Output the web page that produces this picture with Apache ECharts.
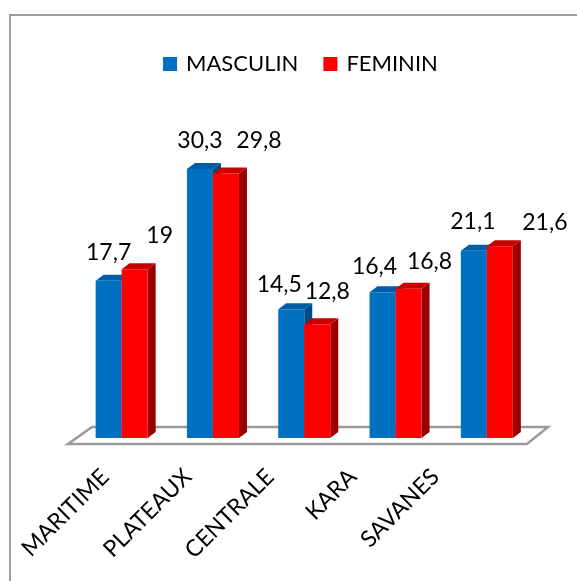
<!DOCTYPE html>
<html><head><meta charset="utf-8">
<script src="https://cdn.jsdelivr.net/npm/echarts@6/dist/echarts.min.js"></script>
<style>html,body{margin:0;padding:0;background:#fff}#c{width:577px;height:581px}</style>
</head><body><div id="c"></div>
<script>
const categories = ['MARITIME', 'PLATEAUX', 'CENTRALE', 'KARA', 'SAVANES'];
const masculin = [17.7, 30.3, 14.5, 16.4, 21.1];
const feminin = [19, 29.8, 12.8, 16.8, 21.6];
const seriesNames = ['MASCULIN', 'FEMININ'];

// label nudges (px) relative to bar top-centre, as placed in the reference
const labelNudge = {
  dx: [[0, 0, -12, -8, -1], [25, 33, 10, 21, 45]],
  dy: [[-28, -28, -25, -26, -29], [-34, -33, -33, -27, -24]]
};
const palette = [
  { front: '#0070C0', top: '#005EA6', side: '#004C88' },
  { front: '#FF0000', top: '#C80000', side: '#9A0000' }
];
const FONT = 'Lato, "Liberation Sans", sans-serif';

const GL = 76, GW = 456.5, GT = 82.8, GH = 355.2; // plot grid
const BASE = GT + GH;
const BW = 26, DX = 8, DY = 6;

function makeRender(s) {
  return function (params, api) {
    const idx = api.value(0), v = api.value(1);
    const p = api.coord([idx, v]);
    const b = api.coord([idx, 0]);
    const x0 = s === 0 ? p[0] - BW : p[0];
    const x1 = x0 + BW;
    const yt = p[1], yb = b[1];
    const c = palette[s];
    return {
      type: 'group',
      children: [
        { type: 'polygon', shape: { points: [[x1, yt], [x1 + DX, yt - DY], [x1 + DX, yb - DY], [x1, yb]] }, style: { fill: c.side } },
        { type: 'polygon', shape: { points: [[x0, yt], [x1, yt], [x1 + DX, yt - DY], [x0 + DX, yt - DY]] }, style: { fill: c.top } },
        { type: 'rect', shape: { x: x0, y: yt, width: BW, height: yb - yt }, style: { fill: c.front } },
        { type: 'text', z2: 100, style: {
            x: x0 + BW / 2 + labelNudge.dx[s][idx], y: yt + labelNudge.dy[s][idx],
            text: String(v).replace('.', ','), align: 'center', verticalAlign: 'middle',
            fill: '#000', font: '23px ' + FONT } }
      ]
    };
  };
}

const chart = echarts.init(document.getElementById('c'), null, { renderer: 'canvas' });
chart.setOption({
  backgroundColor: '#fff',
  animation: false,
  legend: {
    data: seriesNames, left: 158, top: 48, icon: 'rect', itemWidth: 14, itemHeight: 14, itemGap: 25,
    textStyle: { fontFamily: FONT, fontSize: 22, color: '#000', padding: [0, 0, 0, 4] }
  },
  grid: [
    { left: GL, top: GT, width: GW, height: GH },
    { left: 64, top: 100, width: 412.5, height: 365 }
  ],
  xAxis: [
    { type: 'category', data: categories, gridIndex: 0, axisLine: { show: false }, axisTick: { show: false }, axisLabel: { show: false } },
    { type: 'category', data: categories, gridIndex: 1, axisLine: { show: false }, axisTick: { show: false },
      axisLabel: { rotate: 45, margin: 8, interval: 0, fontFamily: FONT, fontSize: 23, color: '#000' } }
  ],
  yAxis: [
    { type: 'value', min: 0, max: 40, gridIndex: 0, show: false },
    { type: 'value', min: 0, max: 1, gridIndex: 1, show: false }
  ],
  graphic: [
    { type: 'rect', shape: { x: 10, y: 15, width: 620, height: 620 }, style: { fill: 'none', stroke: '#9c9c9c', lineWidth: 2 }, z: -1 },
    { type: 'polygon', shape: { points: [[68, BASE + 6], [527, BASE + 6], [548, BASE - 11], [92, BASE - 11]] },
      style: { fill: '#fff', stroke: '#9a9a9a', lineWidth: 2.5 }, z: 0 }
  ],
  series: [
    { name: seriesNames[0], type: 'custom', xAxisIndex: 0, yAxisIndex: 0, itemStyle: { color: palette[0].front },
      data: masculin.map((v, i) => [i, v]), encode: { x: 0, y: 1 }, renderItem: makeRender(0), z: 3 },
    { name: seriesNames[1], type: 'custom', xAxisIndex: 0, yAxisIndex: 0, itemStyle: { color: palette[1].front },
      data: feminin.map((v, i) => [i, v]), encode: { x: 0, y: 1 }, renderItem: makeRender(1), z: 3 }
  ]
});
</script></body></html>
